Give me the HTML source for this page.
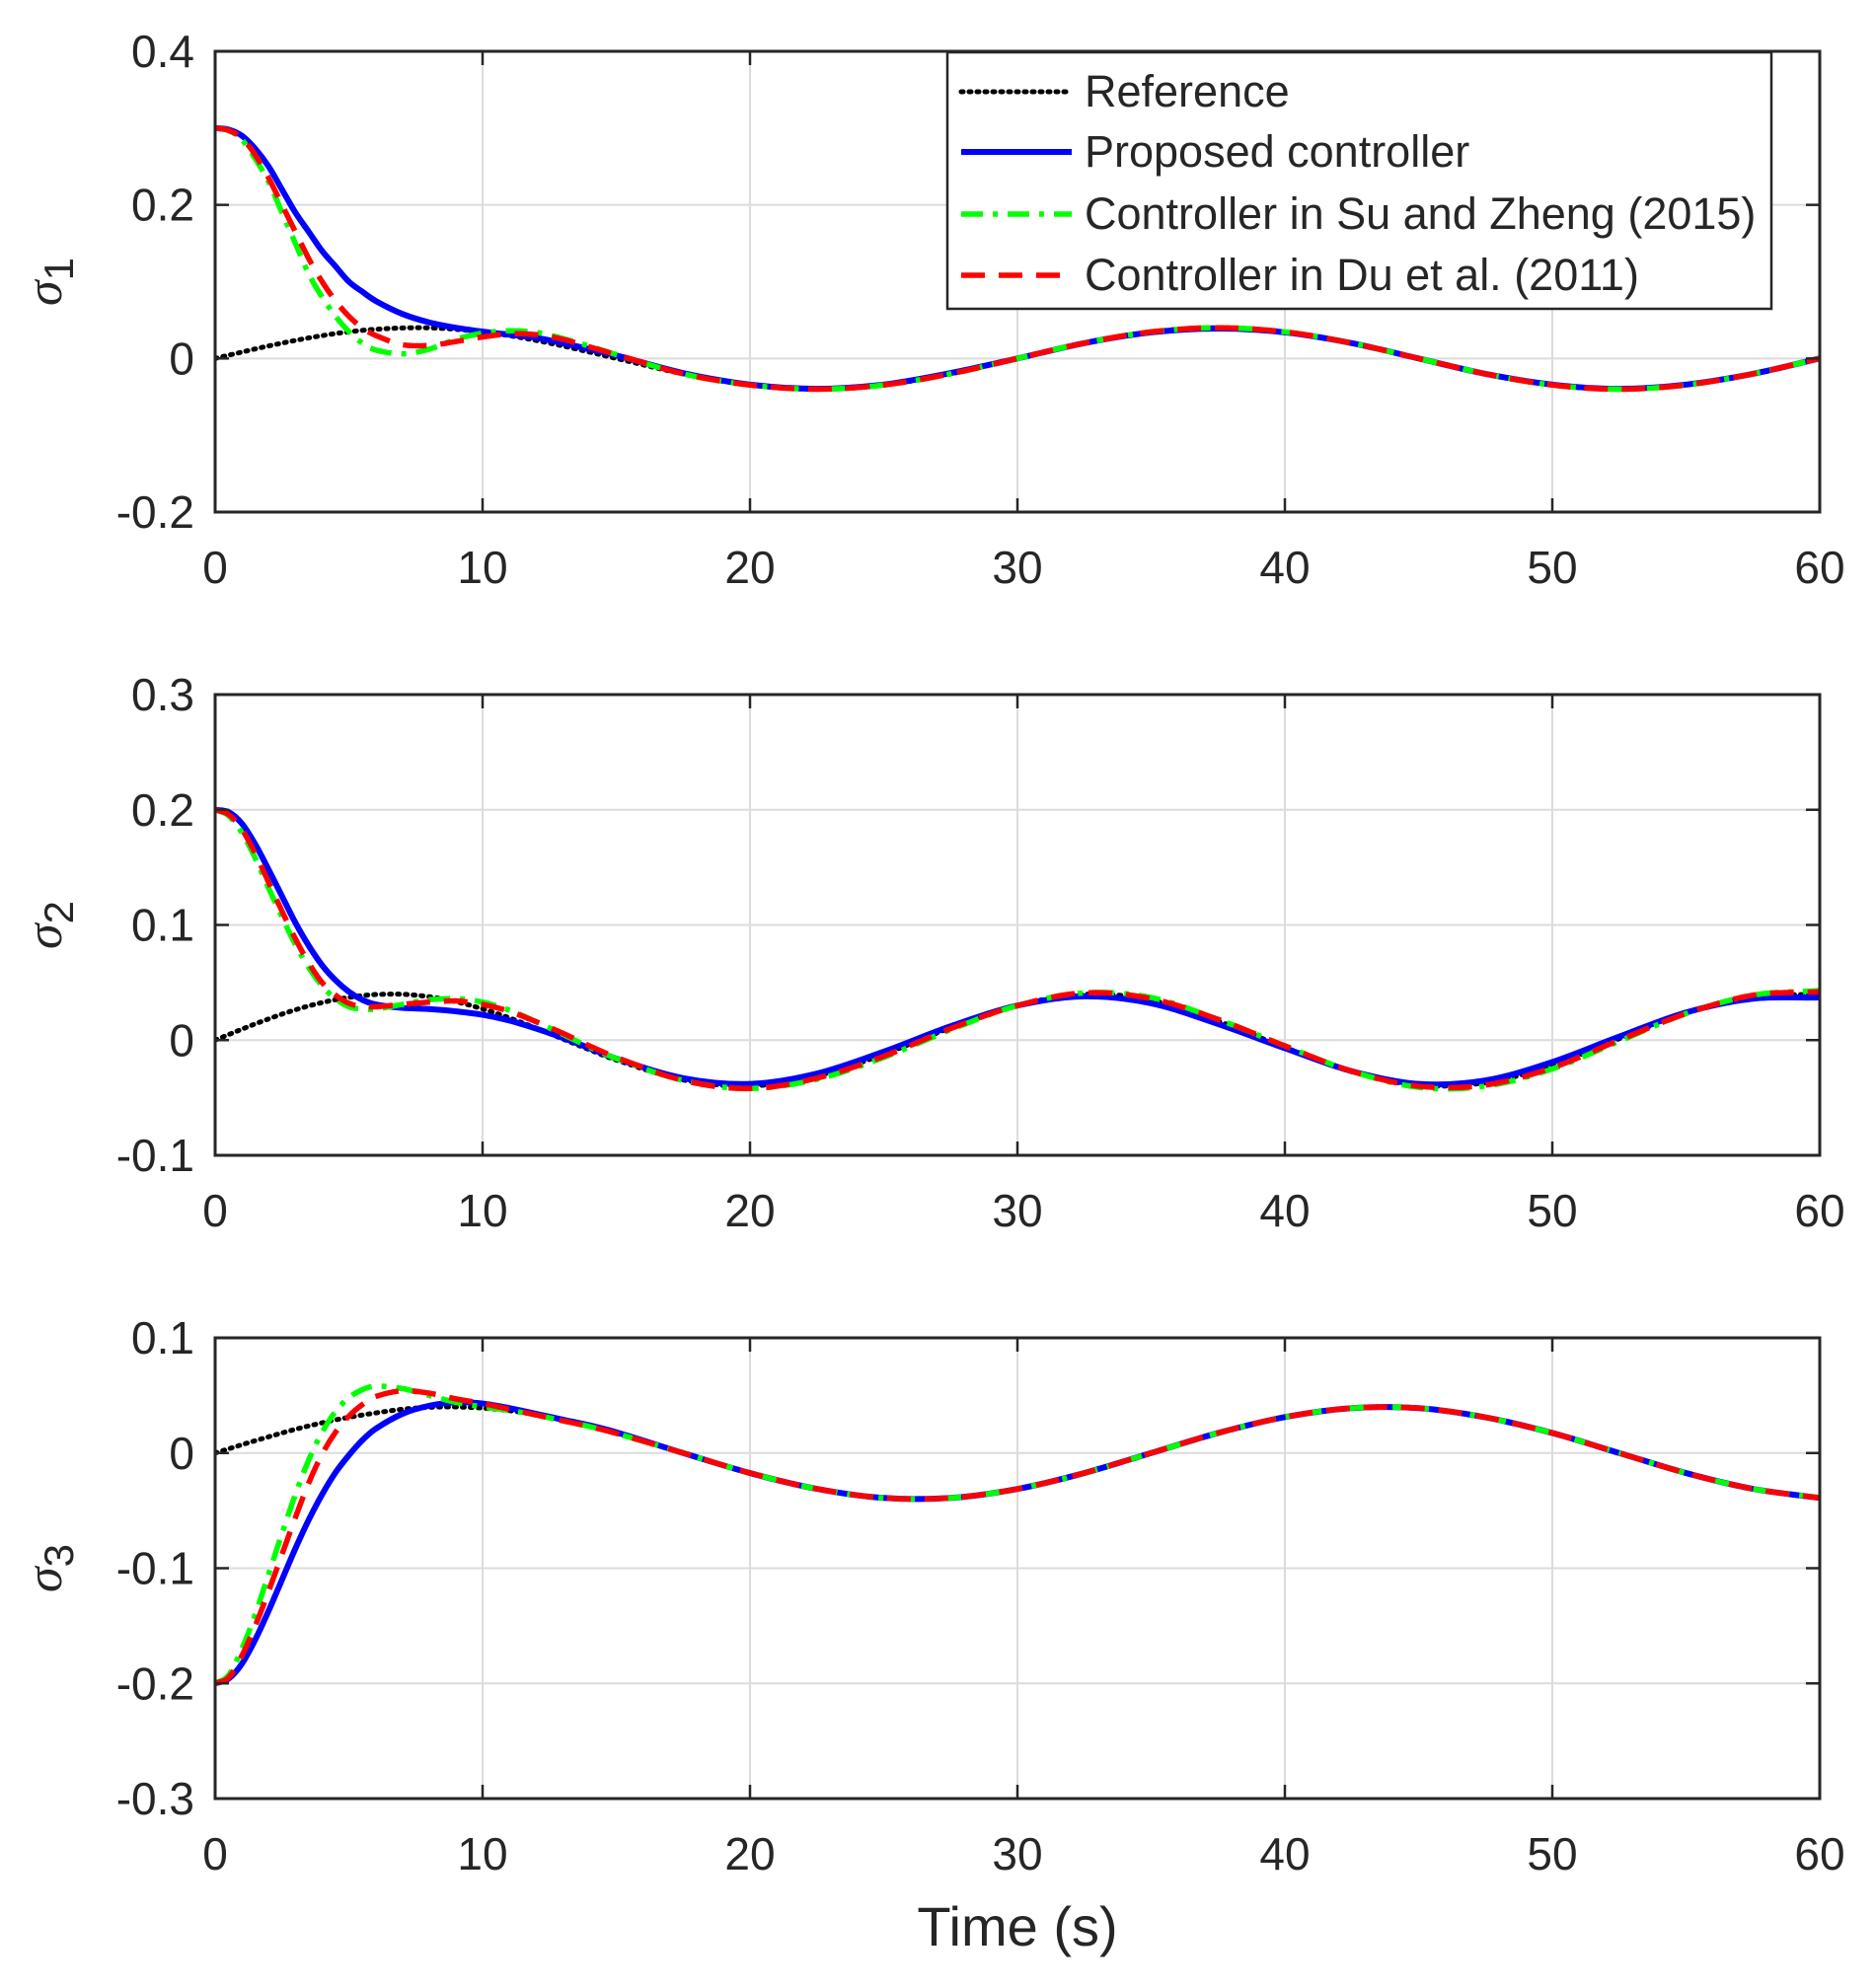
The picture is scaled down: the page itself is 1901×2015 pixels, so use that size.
<!DOCTYPE html>
<html><head><meta charset="utf-8"><style>
body{margin:0;background:#fff}
svg{display:block}
text{font-family:"Liberation Sans",Arial,sans-serif;fill:#262626}
</style></head><body>
<svg id="chart" width="1901" height="2015" viewBox="0 0 1901 2015" xmlns="http://www.w3.org/2000/svg"></svg>
<script>
const timeSec=[0,0.5,1,1.5,2,2.5,3,3.5,4,4.5,5,5.5,6,7,8,9,10,11,12,13,14,15,17.5,20,22.5,25,27.5,30,32.5,35,37.5,40,42.5,45,47.5,50,52.5,55,57.5,60];
const xTicks=[0,10,20,30,40,50,60];
const seriesNames=["Reference","Proposed controller","Controller in Su and Zheng (2015)","Controller in Du et al. (2011)"];
// Plot 1 (sigma_1)
const s1Ref=[0,.0042,.0083,.0124,.0163,.02,.0235,.0268,.0297,.0324,.0346,.0366,.038,.0397,.0399,.038,.0346,.0297,.0235,.0163,.0083,0,-.02,-.0346,-.04,-.0346,-.02,0,.02,.0346,.04,.0346,.02,0,-.02,-.0346,-.04,-.0346,-.02,0];
const s1Prop=[.3,.298,.29,.273,.25,.22,.19,.165,.14,.12,.1,.087,.075,.058,.047,.04,.035,.031,.027,.02,.012,.004,-.019,-.034,-.0395,-.034,-.019,0,.02,.034,.039,.034,.02,0,-.02,-.034,-.0395,-.034,-.02,0];
const s1Su=[.3,.297,.285,.26,.23,.19,.15,.11,.08,.055,.035,.02,.011,.006,.012,.025,.033,.036,.034,.026,.016,.005,-.02,-.0346,-.04,-.0346,-.02,0,.02,.0346,.04,.0346,.02,0,-.02,-.0346,-.04,-.0346,-.02,0];
const s1Du=[.3,.297,.287,.265,.235,.2,.165,.13,.1,.075,.055,.04,.03,.018,.017,.022,.028,.032,.031,.025,.015,.005,-.02,-.0346,-.04,-.0346,-.02,0,.02,.0346,.04,.0346,.02,0,-.02,-.0346,-.04,-.0346,-.02,0];
const s1Ticks=[-0.2,0,0.2,0.4];
// Plot 2 (sigma_2)
const s2Ref=[0,.0048,.0095,.0141,.0184,.0226,.0263,.0297,.0326,.0351,.0371,.0386,.0396,.0398,.0377,.0334,.0271,.0193,.0104,.001,-.0084,-.0173,-.0346,-.0398,-.0311,-.0123,.0107,.03,.0399,.0348,.0165,-.0063,-.0274,-.0391,-.037,-.0219,.0012,.0238,.0379,.0396];
const s2Prop=[.2,.198,.188,.17,.148,.125,.102,.082,.065,.052,.042,.035,.031,.028,.027,.025,.022,.017,.01,.002,-.007,-.016,-.033,-.038,-.029,-.01,.012,.03,.038,.032,.014,-.007,-.027,-.038,-.035,-.019,.003,.024,.036,.037];
const s2Su=[.2,.195,.18,.158,.132,.107,.083,.063,.047,.036,.029,.027,.027,.031,.035,.036,.033,.026,.016,.005,-.006,-.016,-.035,-.042,-.034,-.015,.009,.03,.041,.037,.018,-.005,-.027,-.041,-.04,-.025,-.001,.023,.039,.043];
const s2Du=[.2,.196,.183,.162,.137,.112,.088,.067,.05,.039,.032,.029,.029,.031,.033,.034,.031,.025,.016,.006,-.005,-.015,-.035,-.042,-.033,-.014,.01,.03,.041,.036,.018,-.005,-.027,-.04,-.039,-.024,0,.023,.039,.042];
const s2Ticks=[-0.1,0,0.1,0.2,0.3];
// Plot 3 (sigma_3)
const s3Ref=[0,.0036,.0072,.0107,.0141,.0174,.0206,.0235,.0262,.0288,.031,.033,.0348,.038,.0397,.04,.039,.0368,.0333,.0287,.0235,.0174,0,-.0174,-.0311,-.039,-.039,-.0312,-.0174,0,.0174,.0312,.039,.039,.031,.0174,0,-.0174,-.0311,-.039];
const s3Prop=[-.2,-.196,-.183,-.162,-.137,-.11,-.083,-.058,-.036,-.017,-.002,.011,.021,.034,.041,.044,.043,.039,.034,.029,.024,.018,0,-.0174,-.0311,-.039,-.039,-.0312,-.0174,0,.0174,.0312,.039,.039,.031,.0174,0,-.0174,-.0311,-.039];
const s3Su=[-.2,-.193,-.17,-.14,-.105,-.07,-.036,-.006,.018,.036,.048,.055,.058,.056,.05,.044,.04,.037,.033,.028,.023,.017,0,-.0174,-.0311,-.039,-.039,-.0312,-.0174,0,.0174,.0312,.039,.039,.031,.0174,0,-.0174,-.0311,-.039];
const s3Du=[-.2,-.195,-.176,-.15,-.12,-.088,-.056,-.026,-.001,.018,.032,.042,.049,.054,.052,.047,.043,.038,.033,.028,.023,.017,0,-.0174,-.0311,-.039,-.039,-.0312,-.0174,0,.0174,.0312,.039,.039,.031,.0174,0,-.0174,-.0311,-.039];
const s3Ticks=[-0.3,-0.2,-0.1,0,0.1];

const NS="http://www.w3.org/2000/svg";
const svg=document.getElementById("chart");
const L=218,R=1844;
const styles=[
 {c:"#000",w:5,d:"2 6",cap:"round"},
 {c:"#0000ff",w:6,d:"",cap:"butt"},
 {c:"#00ff00",w:5.5,d:"22 10 5 10",cap:"butt"},
 {c:"#ff0000",w:5.5,d:"24 14",cap:"butt"}];
function mk(tag,attrs,parent){const e=document.createElementNS(NS,tag);for(const k in attrs)e.setAttribute(k,attrs[k]);(parent||svg).appendChild(e);return e;}
function pathD(xs,ys){let d="M"+xs[0].toFixed(2)+","+ys[0].toFixed(2);
 for(let i=0;i<xs.length-1;i++){const i0=Math.max(0,i-1),i3=Math.min(xs.length-1,i+2);
  const h=xs[i+1]-xs[i];
  const m1=(ys[i+1]-ys[i0])/(xs[i+1]-xs[i0]),m2=(ys[i3]-ys[i])/(xs[i3]-xs[i]);
  d+=" C"+(xs[i]+h/3).toFixed(2)+","+(ys[i]+m1*h/3).toFixed(2)+" "+(xs[i+1]-h/3).toFixed(2)+","+(ys[i+1]-m2*h/3).toFixed(2)+" "+xs[i+1].toFixed(2)+","+ys[i+1].toFixed(2);}
 return d;}
function panel(idx,top,bot,ymin,ymax,yTicks,series,sub){
 const g=mk("g",{});
 
 
 const xs=t=>L+(t-0)/(60-0)*(R-L);
 const ys=v=>bot-(v-ymin)/(ymax-ymin)*(bot-top);
 for(const t of xTicks){const gl=mk("line",{x1:xs(t),x2:xs(t),y1:top,y2:bot,stroke:"#dcdcdc","stroke-width":2},g);
  }
 for(const v of yTicks){const gl=mk("line",{x1:L,x2:R,y1:ys(v),y2:ys(v),stroke:"#dcdcdc","stroke-width":2},g);
  }
 const cp=mk("clipPath",{id:"clip"+idx},g);mk("rect",{x:L,y:top,width:R-L,height:bot-top},cp);
 const px=timeSec.map(xs);
 series.forEach((arr,k)=>{const s=styles[k];
  const p=mk("path",{d:pathD(px,arr.map(ys)),fill:"none",stroke:s.c,"stroke-width":s.w,"stroke-dasharray":s.d,"stroke-linecap":s.cap,"clip-path":"url(#clip"+idx+")"},g);
  
  });
 const box=mk("rect",{x:L,y:top,width:R-L,height:bot-top,fill:"none",stroke:"#262626","stroke-width":3},g);
 
 for(const t of xTicks){
  mk("line",{x1:xs(t),x2:xs(t),y1:bot,y2:bot-14,stroke:"#262626","stroke-width":2.5},g);
  mk("line",{x1:xs(t),x2:xs(t),y1:top,y2:top+14,stroke:"#262626","stroke-width":2.5},g);
  const tx=mk("text",{x:xs(t),y:bot+72,"font-size":46,"text-anchor":"middle"},g);tx.textContent=t;
  }
 for(const v of yTicks){
  mk("line",{x1:L,x2:L+14,y1:ys(v),y2:ys(v),stroke:"#262626","stroke-width":2.5},g);
  mk("line",{x1:R,x2:R-14,y1:ys(v),y2:ys(v),stroke:"#262626","stroke-width":2.5},g);
  const tx=mk("text",{x:197,y:ys(v)+16,"font-size":46,"text-anchor":"end"},g);tx.textContent=String(v);
  }
 const yl=mk("text",{transform:"translate(62,"+((top+bot)/2)+") rotate(-90)","font-size":46,"text-anchor":"middle"},g);
 yl.innerHTML='<tspan font-family="Liberation Serif" font-style="italic" font-size="52">σ</tspan><tspan dy="12" font-size="42">'+sub+'</tspan>';
 
}
panel(1,52,519,-0.2,0.4,s1Ticks,[s1Ref,s1Prop,s1Su,s1Du],1);
panel(2,704,1171,-0.1,0.3,s2Ticks,[s2Ref,s2Prop,s2Su,s2Du],2);
panel(3,1356,1823,-0.3,0.1,s3Ticks,[s3Ref,s3Prop,s3Su,s3Du],3);
const xt=mk("text",{x:1031,y:1972,"font-size":56,"text-anchor":"middle"});xt.textContent="Time (s)";

// legend
const lg=mk("g",{});


mk("rect",{x:960,y:53,width:835,height:260,fill:"#fff",stroke:"#262626","stroke-width":2.5},lg);
const ly=[93,154,217,279];
seriesNames.forEach((n,k)=>{const s=styles[k];
 const ln=mk("line",{x1:974,x2:1086,y1:ly[k],y2:ly[k],stroke:s.c,"stroke-width":s.w,"stroke-dasharray":s.d,"stroke-linecap":s.cap},lg);
 
 const tx=mk("text",{x:1099,y:ly[k]+15,"font-size":45,fill:"#000"},lg);tx.textContent=n;
 });
</script>
</body></html>
